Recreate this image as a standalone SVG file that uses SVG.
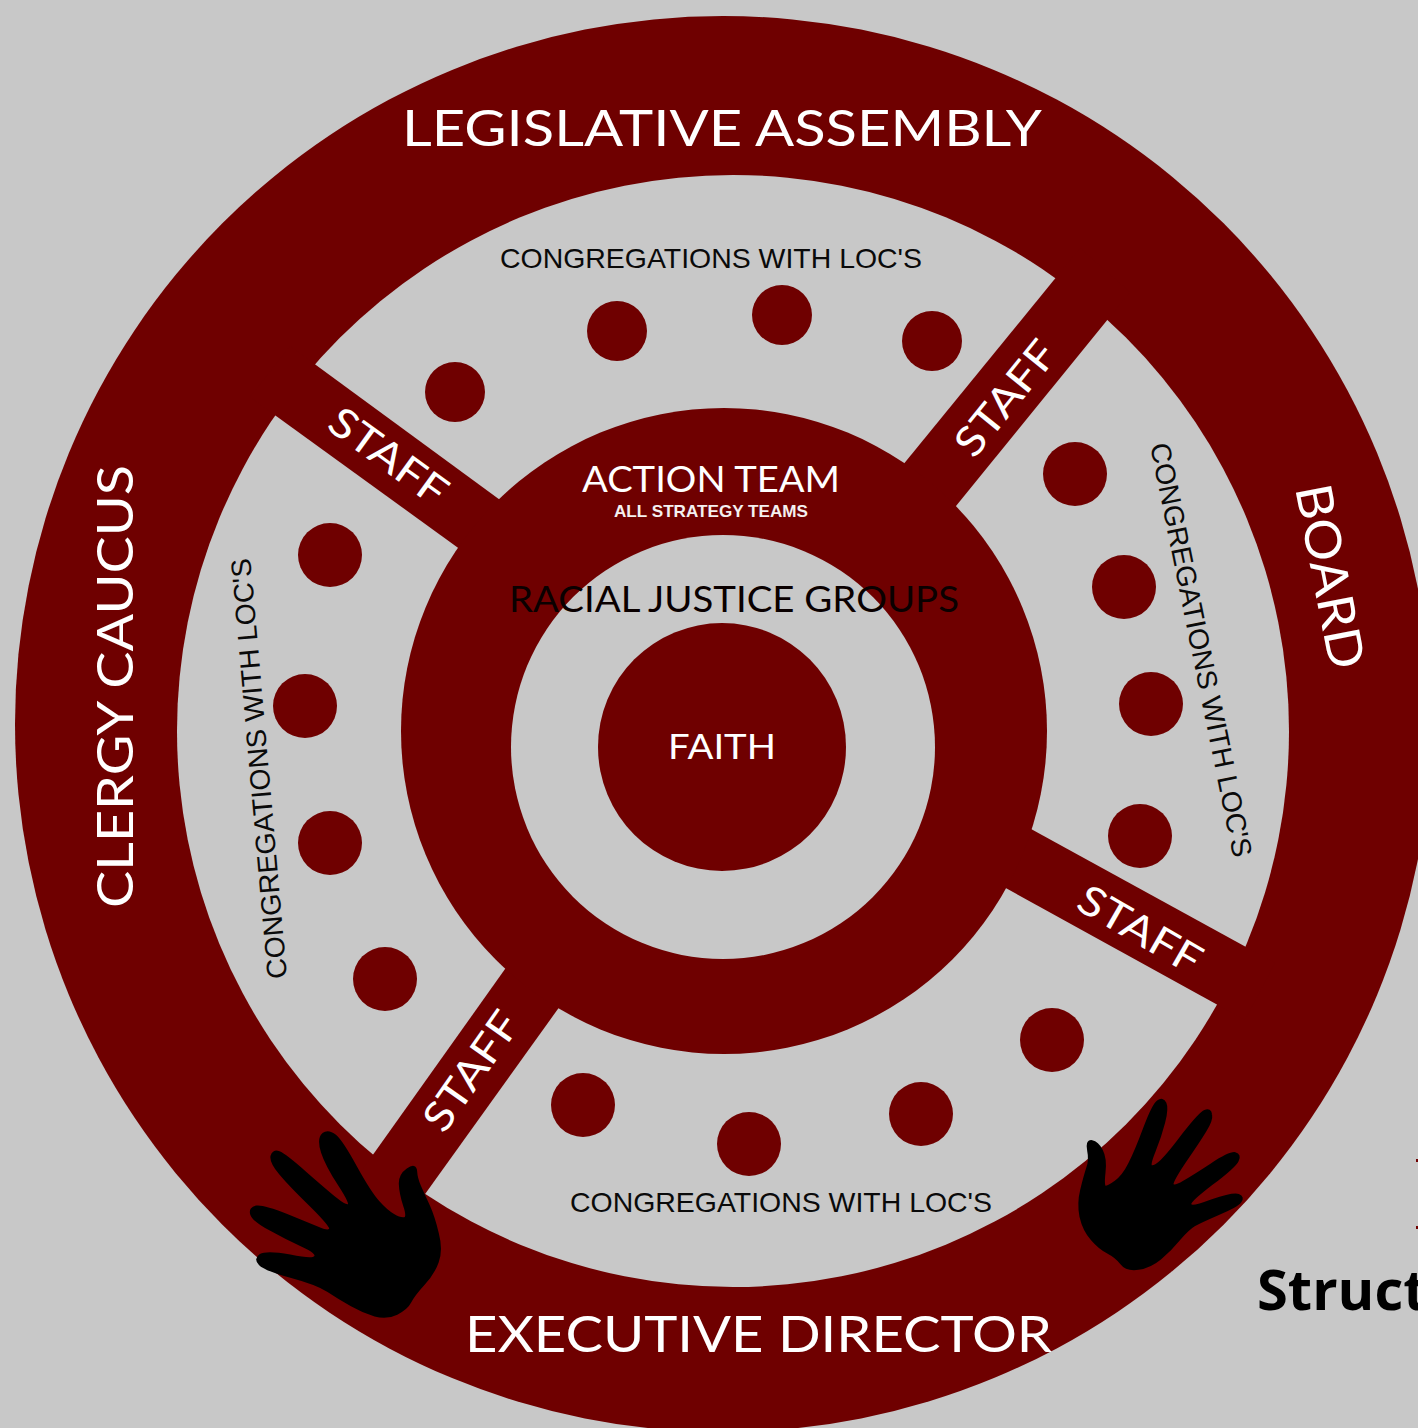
<svg xmlns="http://www.w3.org/2000/svg" width="1418" height="1428" viewBox="0 0 1418 1428">
<style>
.m{fill:#6f0000}.g{fill:#c8c8c8}.h{fill:#000;stroke:#000;stroke-width:9;stroke-linejoin:round}
.t{font-family:"Lato","Liberation Sans",sans-serif;font-weight:400;fill:#fff}
.big{font-size:50px}.staff{font-size:41px}
.c{font-family:"Liberation Sans",Arial,sans-serif;font-size:28px;fill:#0a0a0a}
</style>
<rect width="1418" height="1428" class="g"/>
<g id="outer-ring"><circle cx="723" cy="724" r="708" class="m"/><circle cx="733" cy="731" r="556" class="g"/>
<text class="t big" x="402" y="146" textLength="640" lengthAdjust="spacingAndGlyphs">LEGISLATIVE ASSEMBLY</text>
<text class="t big" x="465" y="1352" textLength="587" lengthAdjust="spacingAndGlyphs">EXECUTIVE DIRECTOR</text>
<text class="t big" transform="translate(133,908) rotate(-90)" textLength="443" lengthAdjust="spacingAndGlyphs">CLERGY CAUCUS</text>
<text class="t big" transform="translate(1295,488) rotate(79)" textLength="187" lengthAdjust="spacingAndGlyphs">BOARD</text>
</g>
<g id="connectors">
<polygon class="m" points="290,346 530,522 490,571 250,397"/>
<polygon class="m" points="1080,248 880,493 930,538 1130,292"/>
<polygon class="m" points="1000,812 1275,963 1245,1020 975,871"/>
<polygon class="m" points="525,941 350,1187 405,1222 578,981"/>
</g>
<g id="middle-ring"><circle cx="724" cy="731" r="323" class="m"/><circle cx="723" cy="747" r="212" class="g"/>
<text class="t" font-size="36" x="582" y="492" textLength="258" lengthAdjust="spacingAndGlyphs">ACTION TEAM</text>
<text font-family="'Liberation Sans',Arial,sans-serif" font-weight="700" font-size="17" fill="#f4f0f0" x="614" y="517" textLength="194" lengthAdjust="spacingAndGlyphs">ALL STRATEGY TEAMS</text>
<text font-family="Lato,'Liberation Sans',sans-serif" font-weight="400" font-size="36" fill="#0a0000" x="509" y="612" textLength="450" lengthAdjust="spacingAndGlyphs">RACIAL JUSTICE GROUPS</text>
</g>
<g id="faith"><circle cx="722" cy="747" r="124" class="m"/>
<text class="t" font-size="35" x="668" y="759" textLength="108" lengthAdjust="spacingAndGlyphs">FAITH</text></g>
<g id="staff-labels">
<text class="t staff" transform="translate(325,428) rotate(36)" textLength="136" lengthAdjust="spacingAndGlyphs">STAFF</text>
<text class="t staff" transform="translate(974,460) rotate(-51)" textLength="136" lengthAdjust="spacingAndGlyphs">STAFF</text>
<text class="t staff" transform="translate(1074,908) rotate(30)" textLength="136" lengthAdjust="spacingAndGlyphs">STAFF</text>
<text class="t staff" transform="translate(444,1135) rotate(-55)" textLength="136" lengthAdjust="spacingAndGlyphs">STAFF</text>
</g>
<g id="congregations-top"><text class="c" x="500" y="268" textLength="422" lengthAdjust="spacingAndGlyphs">CONGREGATIONS WITH LOC'S</text>
<circle class="m" cx="455" cy="392" r="30"/><circle class="m" cx="617" cy="331" r="30"/><circle class="m" cx="782" cy="315" r="30"/><circle class="m" cx="932" cy="341" r="30"/></g>
<g id="congregations-right"><text class="c" transform="translate(1150,445) rotate(78.6)" textLength="422" lengthAdjust="spacingAndGlyphs">CONGREGATIONS WITH LOC'S</text>
<circle class="m" cx="1075" cy="474" r="32"/><circle class="m" cx="1124" cy="587" r="32"/><circle class="m" cx="1151" cy="704" r="32"/><circle class="m" cx="1140" cy="836" r="32"/></g>
<g id="congregations-bottom"><text class="c" x="570" y="1212" textLength="422" lengthAdjust="spacingAndGlyphs">CONGREGATIONS WITH LOC'S</text>
<circle class="m" cx="583" cy="1105" r="32"/><circle class="m" cx="749" cy="1144" r="32"/><circle class="m" cx="921" cy="1114" r="32"/><circle class="m" cx="1052" cy="1040" r="32"/></g>
<g id="congregations-left"><text class="c" transform="translate(287,978) rotate(-95)" textLength="422" lengthAdjust="spacingAndGlyphs">CONGREGATIONS WITH LOC'S</text>
<circle class="m" cx="330" cy="555" r="32"/><circle class="m" cx="305" cy="706" r="32"/><circle class="m" cx="330" cy="843" r="32"/><circle class="m" cx="385" cy="979" r="32"/></g>
<g id="hand-left" transform="translate(230,1110) scale(.3333)"><path class="h" d="M533,179Q510,195 511,222Q512,250 524,287Q537,325 523,326Q510,328 490,316Q470,305 445,277Q420,250 377,172Q335,95 315,78Q295,62 280,73Q265,85 277,125Q290,165 329,225Q368,285 356,287Q345,290 317,267Q290,245 227,190Q165,135 147,128Q130,122 126,138Q122,155 151,190Q180,225 244,287Q308,350 301,359Q295,368 267,356Q240,345 170,316Q100,288 80,291Q60,295 65,312Q70,330 120,357Q170,385 217,406Q265,428 257,440Q250,452 180,438Q110,425 92,436Q75,447 90,462Q105,478 182,499Q260,520 295,542Q330,565 365,585Q400,605 435,615Q470,625 500,610Q530,595 540,575Q550,555 580,522Q610,490 622,455Q635,420 622,370Q610,320 595,287Q580,255 569,230Q558,205 557,184Q556,163 533,179Z"/></g>
<g id="hand-right" transform="translate(1060,1080) scale(.3333)"><path class="h" d="M96,185Q112,188 124,211Q137,235 132,278Q127,322 136,322Q145,322 167,306Q190,290 209,252Q228,215 254,145Q280,75 294,65Q308,55 315,70Q322,85 311,127Q300,170 282,214Q264,258 274,260Q285,262 305,243Q325,225 372,162Q420,100 435,94Q450,88 452,104Q455,120 435,152Q415,185 372,247Q330,310 337,316Q345,322 372,306Q400,290 455,254Q510,218 525,221Q540,225 532,241Q525,258 455,311Q385,365 390,375Q395,385 457,362Q520,340 535,346Q550,352 540,365Q530,378 475,401Q420,425 402,435Q385,445 357,477Q330,510 300,535Q270,560 235,565Q200,570 185,550Q170,530 145,517Q120,505 96,477Q72,450 63,410Q55,370 65,330Q75,290 83,265Q92,240 86,212Q80,183 96,185Z"/></g>
<g id="cropped-title"><rect class="m" x="1416" y="1159" width="2" height="3"/><rect class="m" x="1416" y="1226" width="2" height="3"/>
<text x="1257" y="1310" font-family="'Open Sans','Noto Sans',sans-serif" font-weight="700" font-size="56" fill="#000">Struct</text></g>
</svg>
